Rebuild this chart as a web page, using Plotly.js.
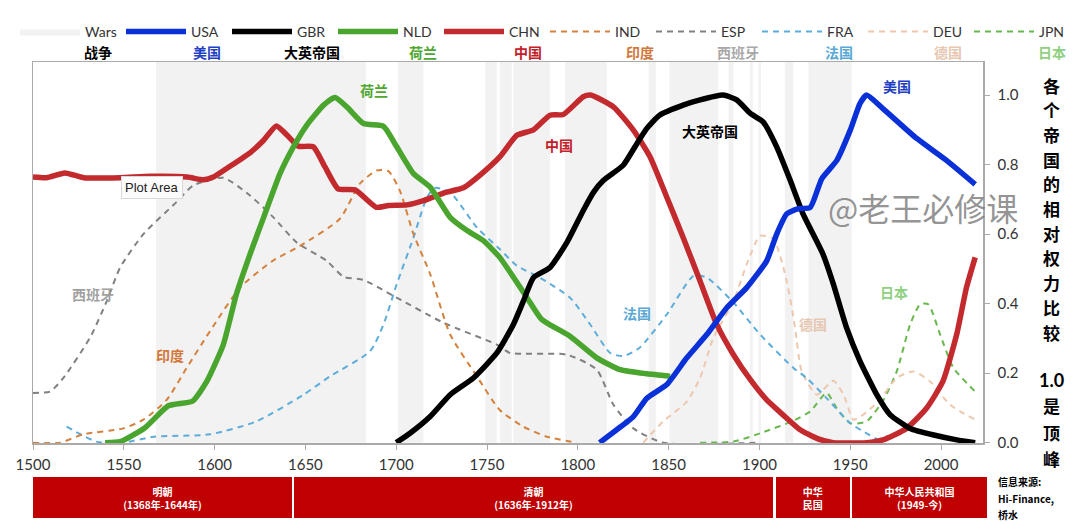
<!DOCTYPE html>
<html><head><meta charset="utf-8">
<script src="https://cdn.plot.ly/plotly-3.0.1.min.js"></script>
<style>html,body{margin:0;padding:0;background:#fff}</style></head>
<body><div id="chart" style="width:1080px;height:525px"></div>
<script>
const warStart=[1567.7,1700.9,1749,1757,1764.5,1793,1839,1850.5,1883,1894.8,1899.5,1914,1927];
const warEnd=[1683.4,1715,1755.4,1763.6,1784.7,1816,1843,1877.4,1885.7,1896.3,1900.9,1918.7,1950.8];

const chnX=[1500,1507.5,1517.6,1528,1548,1564.5,1585,1594,1599.3,1608.5,1620,1627,1634,1640,1646,1654.4,1660.8,1668,1677.4,1689,1695.7,1706,1715,1726,1737,1746,1757,1766.4,1775.6,1784.7,1792,1803,1807,1819.6,1830.6,1839.8,1849,1858,1867.3,1876.5,1885.7,1895,1904,1913,1922.4,1931.6,1940.7,1959,1968,1981,1992,2001,2008.6,2014,2018.8];
const chnY=[.764,.762,.776,.762,.762,.766,.764,.756,.764,.795,.836,.87,.911,.884,.853,.851,.793,.73,.727,.677,.682,.684,.696,.718,.733,.769,.822,.884,.9,.942,.944,.995,1,.966,.899,.822,.706,.59,.465,.34,.253,.181,.123,.08,.037,.0125,0,0,.008,.041,.099,.176,.311,.446,.533];

const gbrX=[1700,1707.6,1718.7,1729.7,1742.5,1755.4,1764.5,1770,1775.6,1784.7,1794,1803,1808.6,1814,1825,1832.5,1838,1845,1858,1867.3,1880,1887.5,1895,1902,1909.5,1917,1924,1935,1940.7,1948,1955.4,1964.6,1972,1983,1996,2008.7,2018.8];
const gbrY=[0,.027,.075,.138,.186,.258,.34,.407,.475,.504,.576,.668,.72,.754,.798,.86,.904,.942,.971,.986,1,.986,.947,.923,.851,.754,.658,.542,.456,.33,.234,.138,.08,.041,.022,.008,0];

const usaX=[1812,1821.4,1830.6,1838,1849,1860,1871,1882,1893,1904,1909.5,1915,1920.6,1928,1934.3,1942.6,1950,1955.4,1959,1968,1986.6,2003,2018.8];
const usaY=[0,.037,.075,.128,.167,.244,.311,.388,.446,.523,.6,.658,.672,.677,.759,.812,.899,.976,1,.961,.875,.812,.743];

const nldX=[1539.7,1548,1561.7,1574.5,1588,1595.7,1604.8,1612,1619.5,1627,1636,1643.4,1650.7,1660,1666.3,1672.8,1682,1693,1700.3,1709.5,1718.7,1729.7,1739,1748,1757,1772,1780,1795.7,1810.4,1823.3,1838,1850.8];
const nldY=[0,.003,.043,.106,.12,.176,.282,.427,.542,.648,.774,.851,.913,.971,.993,.966,.918,.91,.851,.774,.735,.648,.61,.581,.533,.417,.355,.306,.244,.21,.198,.191];

const indX=[1500,1515,1527.7,1549.7,1560.8,1573.6,1584.6,1597.5,1614,1632,1647,1669,1680,1689.3,1695.7,1702,1709.5,1718.7,1729.7,1744.4,1757,1770,1783,1799.4];
const indY=[0,0,.024,.041,.066,.123,.215,.321,.446,.523,.566,.644,.745,.783,.781,.725,.6,.485,.311,.191,.094,.046,.017,0];

const espX=[1500,1509.4,1516.7,1531.4,1540.6,1548,1560.8,1579,1588.3,1604.8,1619.5,1632.4,1645.2,1661.7,1671,1682,1698.5,1726,1755.4,1762.7,1794,1810.4,1819.6,1830.6,1847,1900];
const espY=[.143,.147,.186,.302,.407,.504,.6,.692,.74,.762,.711,.648,.576,.523,.477,.468,.422,.345,.282,.258,.253,.21,.109,.041,0,0];

const fraX=[1518.5,1535,1549.7,1566.3,1597.5,1623,1649,1663.6,1685.6,1693,1700.3,1709.5,1717,1721.4,1729.7,1744.4,1757,1766.4,1779,1795.7,1806.8,1817.8,1825,1834,1849,1863.7,1871,1885.7,1900.4,1918.7,1926,1937,1950,1965.5];
const fraY=[.046,.003,0,.017,.024,.061,.138,.191,.263,.34,.456,.59,.706,.733,.72,.619,.557,.509,.475,.417,.34,.258,.249,.273,.369,.48,.475,.403,.311,.215,.186,.128,.056,.008];

const deuX=[1836,1847,1860,1867.3,1874.7,1885.7,1893,1900.4,1907.7,1915,1919.6,1923.3,1931.6,1940.7,1946.3,1951.8,1957,1965.5,1975.6,1984.8,1994,2005,2018.8];
const deuY=[0,.061,.118,.186,.302,.407,.513,.595,.586,.465,.33,.205,.138,.178,.138,.066,.08,.118,.186,.205,.176,.109,.066];

const jpnX=[1867.3,1885.7,1900.4,1918.7,1928,1937,1942.6,1950,1959,1968.3,1975.6,1983,1988.5,1993,1999.5,2006.8,2018.8];
const jpnY=[0,.003,.027,.063,.09,.143,.099,.056,.061,.123,.205,.34,.398,.398,.311,.215,.147];

const dynastyStart=[1500,1643.7,1909,1951];
const dynastyEnd=[1642.6,1907.5,1949.6,2025.3];
const dynastyText=["<b>明朝<br>(1368年-1644年)</b>","<b>清朝<br>(1636年-1912年)</b>","<b>中华<br>民国</b>","<b>中华人民共和国<br>(1949-今)</b>"];

const xTicks=[1500,1550,1600,1650,1700,1750,1800,1850,1900,1950,2000];
const yTicks=[0,.2,.4,.6,.8,1];

const legendNotes=["战争","美国","大英帝国","荷兰","中国","印度","西班牙","法国","德国","日本"];
const noteColors=["#000","#1f3fc4","#000","#4ea72e","#c4202a","#d2783a","#a8a8a8","#5aa8d6","#e6c8b2","#8fd07f"];
const noteCenters=[98,207,312,423,528,640,738,839,948,1052];

const YTOP=1.095;
const bandX=[],bandY=[];
warStart.forEach((s,i)=>{bandX.push(s,s,warEnd[i],warEnd[i],null);bandY.push(0,YTOP,YTOP,0,null);});

function solid(name,x,y,color,rank){return {type:"scatter",mode:"lines",name,x,y,legendrank:rank,hoverinfo:"name",
  line:{color,width:5.5,shape:"spline",smoothing:.5},xaxis:"x",yaxis:"y"};}
function dashed(name,x,y,color,rank){return {type:"scatter",mode:"lines",name,x,y,legendrank:rank,hoverinfo:"name",
  line:{color,width:2,dash:"6px,5px",shape:"spline",smoothing:.6},xaxis:"x",yaxis:"y"};}

const traces=[
 {type:"scatter",mode:"lines",name:"Wars",x:bandX,y:bandY,fill:"toself",fillcolor:"#f2f2f3",line:{width:0,color:"#f2f2f3"},legendrank:1,hoverinfo:"name",xaxis:"x",yaxis:"y"},
 dashed("JPN",jpnX,jpnY,"#68b84f",10),
 dashed("DEU",deuX,deuY,"#edc8ae",9),
 dashed("FRA",fraX,fraY,"#5dadda",8),
 dashed("ESP",espX,espY,"#808080",7),
 dashed("IND",indX,indY,"#d5823e",6),
 solid("CHN",chnX,chnY,"#c22a2e",5),
 solid("NLD",nldX,nldY,"#4aa52e",4),
 solid("GBR",gbrX,gbrY,"#000000",3),
 solid("USA",usaX,usaY,"#0a30d8",2),
 {type:"bar",orientation:"h",y:dynastyStart.map(()=>"d"),base:dynastyStart,x:dynastyEnd.map((e,i)=>e-dynastyStart[i]),
  text:dynastyText,textposition:"inside",insidetextanchor:"middle",textangle:0,constraintext:"none",
  textfont:{color:"#fff",size:10,family:'"Noto Sans CJK SC"'},marker:{color:"#c00000"},showlegend:false,hoverinfo:"skip",xaxis:"x2",yaxis:"y2"}
];

const L=33,T=45,R=10,B=5;
const W=1080-L-R,H=525-T-B;
const px=v=>(v-L)/W, py=v=>(T+H-v)/H;
const cjk='"Noto Sans CJK SC"';
const ann=[];
function paperText(text,x,y,color,size,bold,family){ann.push({text:bold?"<b>"+text+"</b>":text,xref:"paper",yref:"paper",x:px(x),y:py(y),showarrow:false,xanchor:"center",yanchor:"middle",font:{color,size,family:family||cjk}});}
legendNotes.forEach((t,i)=>paperText(t,noteCenters[i],52,noteColors[i],14,true));
function dataLabel(text,x,y,color,size){ann.push({text:"<b>"+text+"</b>",xref:"x",yref:"y",x,y,showarrow:false,font:{color,size,family:cjk}});}
dataLabel("荷兰",1688,1.014,"#4ea72e",14);
dataLabel("美国",1975.8,1.026,"#1f3fc4",14);
dataLabel("大英帝国",1872.8,.896,"#000",14);
dataLabel("中国",1789.6,.856,"#c4202a",14);
dataLabel("西班牙",1533,.428,"#a0a0a0",14);
dataLabel("印度",1575.4,.252,"#d2783a",14);
dataLabel("法国",1832.6,.373,"#5aa8d6",14);
dataLabel("德国",1929.5,.341,"#e6c8b2",14);
dataLabel("日本",1974,.433,"#8fd07f",14);
ann.push({text:"@老王必修课",xref:"x",yref:"y",x:1990,y:.678,showarrow:false,font:{size:32,color:"rgba(120,120,120,.8)",family:cjk}});
ann.push({text:"Plot Area",xref:"x",yref:"y",x:1565.5,y:.735,showarrow:false,bgcolor:"#fbfbfb",bordercolor:"#d8d8d8",borderwidth:1,borderpad:3,font:{size:13,color:"#222",family:"Liberation Sans"}});
"各个帝国的相对权力比较".split("").forEach((c,i)=>paperText(c,1051,85+24.7*i,"#000",17,true));
paperText("1.0",1051,380,"#000",18,true,"Lato");
paperText("是",1051,405,"#000",17,true);
paperText("顶",1051,432,"#000",17,true);
paperText("峰",1051,458,"#000",17,true);
[["信息来源:",481],["Hi-Finance,",498],["桥水",514]].forEach(r=>ann.push({text:"<b>"+r[0]+"</b>",xref:"paper",yref:"paper",x:px(996),y:py(r[1]),xanchor:"left",yanchor:"middle",showarrow:false,font:{size:10,color:"#000",family:cjk}}));

const layout={
 width:1080,height:525,paper_bgcolor:"#fff",plot_bgcolor:"#fff",
 margin:{l:L,r:R,t:T,b:B,autoexpand:false},
 showlegend:true,hovermode:false,bargap:0,barmode:"overlay",
 legend:{orientation:"h",x:px(15),y:py(32),xanchor:"left",yanchor:"middle",itemwidth:60,entrywidth:31,entrywidthmode:"pixels",itemclick:false,tracegroupgap:0,font:{family:"Lato",size:14,color:"#333"},bgcolor:"rgba(0,0,0,0)"},
 xaxis:{domain:[0,950/W],range:[1500,2023.1],tickvals:xTicks,ticktext:xTicks.map(String),ticks:"outside",ticklen:5,ticklabelstandoff:2,tickcolor:"#aaa",showgrid:false,zeroline:false,showline:true,mirror:true,linecolor:"#aaa",linewidth:1.5,tickfont:{family:"Lato",size:15,color:"#333"},anchor:"y"},
 yaxis:{domain:[py(443),py(62)],range:[-.001,YTOP],side:"right",tickvals:yTicks,ticktext:yTicks.map(v=>v.toFixed(1)),ticks:"outside",ticklen:5,ticklabelstandoff:5,tickcolor:"#aaa",showgrid:false,zeroline:false,showline:true,mirror:true,linecolor:"#aaa",linewidth:1.5,tickfont:{family:"Lato",size:15,color:"#333"},anchor:"x"},
 xaxis2:{domain:[0,954/W],range:[1500,2025.3],visible:false,anchor:"y2",fixedrange:true},
 yaxis2:{domain:[py(518),py(477)],type:"category",visible:false,anchor:"x2",fixedrange:true},
 annotations:ann
};
Plotly.newPlot("chart",traces,layout,{displayModeBar:false,staticPlot:true});
</script></body></html>
